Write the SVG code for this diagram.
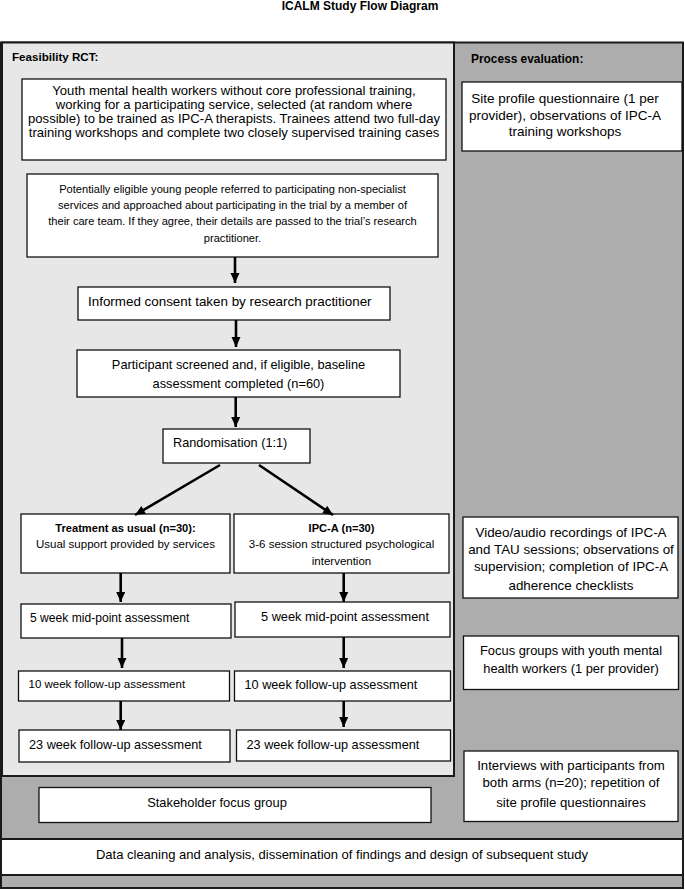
<svg xmlns="http://www.w3.org/2000/svg" width="685" height="890" viewBox="0 0 685 890">
<style>
text{font-family:"Liberation Sans",Arial,sans-serif;fill:#000}
.b{font-weight:bold}
.m{text-anchor:middle}
.box{fill:#fff;stroke:#111;stroke-width:1.3}
.panel{stroke:#1a1a1a;stroke-width:2}
.conn line{stroke:#000;stroke-width:2.6;marker-end:url(#ah)}
</style>
<defs>
<marker id="ah" markerUnits="userSpaceOnUse" markerWidth="12" markerHeight="12" viewBox="0 0 12 12" refX="11" refY="6" orient="auto">
<path d="M1,1.5 L11,6 L1,10.5 Z" fill="#000"/>
</marker>
</defs>
<rect width="685" height="890" fill="#fff"/>
<text id="title" class="b m" x="360" y="9.5" font-size="12">ICALM Study Flow Diagram</text>
<g id="frame">
<rect class="panel" x="1" y="42.5" width="682" height="845.5" fill="#adadad"/>
<rect class="panel" x="2" y="42.5" width="452" height="733.5" fill="#e7e7e7"/>
<text class="b" x="12" y="60.8" font-size="11.6">Feasibility RCT:</text>
<text class="b" x="471" y="63.2" font-size="11.9">Process evaluation:</text>
</g>
<g id="n1">
<rect class="box" x="22" y="79" width="424" height="81"/>
<text class="m" x="234" font-size="13.1"><tspan x="234" y="94.5">Youth mental health workers without core professional training,</tspan><tspan x="234" y="108.5">working for a participating service, selected (at random where</tspan><tspan x="234" y="122.5">possible) to be trained as IPC-A therapists. Trainees attend two full-day</tspan><tspan x="234" y="136.5">training workshops and complete two closely supervised training cases</tspan></text>
</g>
<g id="n2">
<rect class="box" x="27" y="174" width="411" height="83"/>
<text class="m" font-size="11.1"><tspan x="232.5" y="193">Potentially eligible young people referred to participating non-specialist</tspan><tspan x="232.5" y="209">services and approached about participating in the trial by a member of</tspan><tspan x="232.5" y="225">their care team. If they agree, their details are passed to the trial’s research</tspan><tspan x="232.5" y="241.5">practitioner.</tspan></text>
</g>
<g id="n3">
<rect class="box" x="78" y="287" width="312" height="33"/>
<text x="88" y="305.7" font-size="13.4">Informed consent taken by research practitioner</text>
</g>
<g id="n4">
<rect class="box" x="77" y="350" width="323" height="47"/>
<text class="m" font-size="12.8"><tspan x="238.5" y="368.8">Participant screened and, if eligible, baseline</tspan><tspan x="238.5" y="387.8">assessment completed (n=60)</tspan></text>
</g>
<g id="n5">
<rect class="box" x="163" y="429" width="147" height="34"/>
<text x="173" y="447" font-size="12.7">Randomisation (1:1)</text>
</g>
<g id="tau">
<rect class="box" x="21" y="514" width="209" height="59"/>
<text class="b m" x="125.5" y="531.6" font-size="11.1">Treatment as usual (n=30):</text>
<text class="m" x="125.5" y="548.3" font-size="11.5">Usual support provided by services</text>
</g>
<g id="ipca">
<rect class="box" x="234" y="514" width="215" height="59"/>
<text class="b m" x="341.5" y="531.6" font-size="11.1">IPC-A (n=30)</text>
<text class="m" font-size="11.5"><tspan x="341.5" y="548.3">3-6 session structured psychological</tspan><tspan x="341.5" y="565">intervention</tspan></text>
</g>
<g id="l5">
<rect class="box" x="21" y="604" width="210" height="34"/>
<text x="30" y="622" font-size="12.1">5 week mid-point assessment</text>
</g>
<g id="r5">
<rect class="box" x="235" y="602" width="215" height="35"/>
<text x="261" y="620.5" font-size="12.75">5 week mid-point assessment</text>
</g>
<g id="l10">
<rect class="box" x="18.5" y="671" width="211" height="30"/>
<text x="28.5" y="688" font-size="11.5">10 week follow-up assessment</text>
</g>
<g id="r10">
<rect class="box" x="234.5" y="671" width="216" height="30"/>
<text x="244.5" y="688.5" font-size="12.7">10 week follow-up assessment</text>
</g>
<g id="l23">
<rect class="box" x="19" y="730" width="211" height="32"/>
<text x="29" y="748.5" font-size="12.7">23 week follow-up assessment</text>
</g>
<g id="r23">
<rect class="box" x="236.5" y="730" width="214" height="31"/>
<text x="246.5" y="748.5" font-size="12.7">23 week follow-up assessment</text>
</g>
<g id="stake">
<rect class="box" x="39" y="787.5" width="392" height="35"/>
<text class="m" x="217" y="806.5" font-size="12.9">Stakeholder focus group</text>
</g>
<g id="data">
<rect class="panel" x="1" y="839" width="682" height="36" fill="#fff"/>
<text class="m" x="342" y="859" font-size="13">Data cleaning and analysis, dissemination of findings and design of subsequent study</text>
</g>
<g id="site">
<rect class="box" x="462" y="82" width="220" height="69"/>
<text class="m" font-size="13.5"><tspan x="565" y="103">Site profile questionnaire (1 per</tspan><tspan x="565" y="119.7">provider), observations of IPC-A</tspan><tspan x="565" y="135.7">training workshops</tspan></text>
</g>
<g id="video">
<rect class="box" x="463" y="517" width="215" height="81"/>
<text class="m" font-size="13.4"><tspan x="571" y="537">Video/audio recordings of IPC-A</tspan><tspan x="571" y="553.7">and TAU sessions; observations of</tspan><tspan x="571" y="571.4">supervision; completion of IPC-A</tspan><tspan x="571" y="589.7">adherence checklists</tspan></text>
</g>
<g id="focus">
<rect class="box" x="463.5" y="636" width="215" height="53.5"/>
<text class="m" font-size="12.9"><tspan x="571" y="654.5">Focus groups with youth mental</tspan><tspan x="571" y="672.8">health workers (1 per provider)</tspan></text>
</g>
<g id="interviews">
<rect class="box" x="464" y="751" width="214" height="70.5"/>
<text class="m" font-size="13.2"><tspan x="571" y="769.6">Interviews with participants from</tspan><tspan x="571" y="787.3">both arms (n=20); repetition of</tspan><tspan x="571" y="806.6">site profile questionnaires</tspan></text>
</g>
<g id="connectors" class="conn">
<line x1="235" y1="257" x2="235" y2="283"/>
<line x1="236" y1="320" x2="236" y2="347"/>
<line x1="235.7" y1="397" x2="235.7" y2="427"/>
<line x1="220" y1="465" x2="135" y2="515"/>
<line x1="259" y1="465" x2="333" y2="515"/>
<line x1="120.7" y1="573" x2="120.7" y2="602"/>
<line x1="343.7" y1="573" x2="343.7" y2="602"/>
<line x1="122" y1="638" x2="122" y2="668"/>
<line x1="343.7" y1="637" x2="343.7" y2="668"/>
<line x1="120.7" y1="701" x2="120.7" y2="730"/>
<line x1="343.7" y1="701" x2="343.7" y2="727"/>
</g>
</svg>
